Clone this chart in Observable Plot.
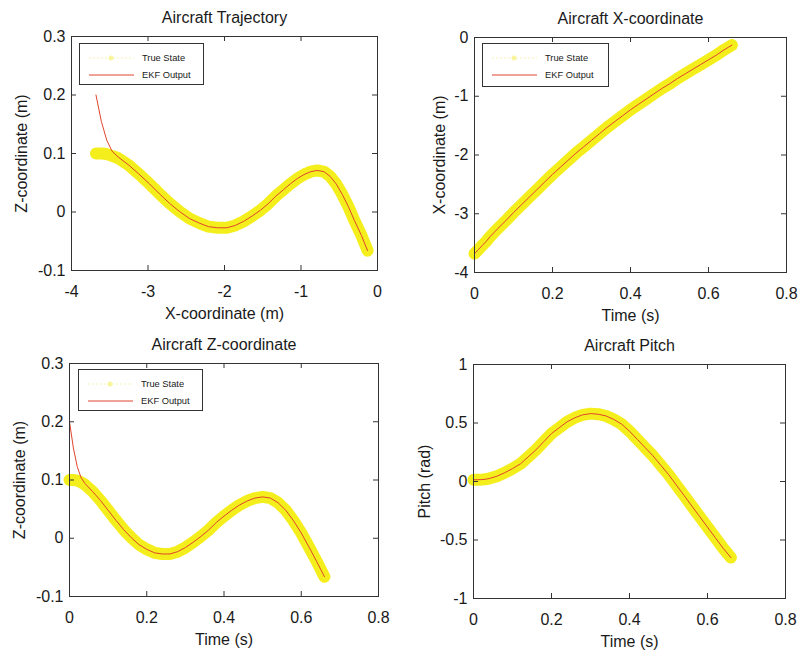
<!DOCTYPE html>
<html><head><meta charset="utf-8">
<script src="https://cdn.jsdelivr.net/npm/d3@7"></script>
<script src="https://cdn.jsdelivr.net/npm/@observablehq/plot@0.6"></script>
<style>
body{margin:0;background:#fff;}
#root{position:relative;width:798px;height:652px;overflow:hidden;background:#fff;font-family:"Liberation Sans",Arial,sans-serif;}
.panel{position:absolute;width:399px;height:326px;}
.legend{position:absolute;border:1px solid #333;background:#fff;font-size:9.3px;color:#1a1a1a;box-sizing:border-box;}
.legend .row{position:absolute;left:0;height:14px;line-height:14px;width:100%;}
.legend svg{position:absolute;left:7px;top:0;}
.legend span{position:absolute;left:62px;top:0;white-space:nowrap;}
</style></head><body><div id="root"></div>
<script>
// ---- data ----
const time = [0, 0.01, 0.02, 0.03, 0.04, 0.06, 0.08, 0.10, 0.12, 0.14, 0.16, 0.18, 0.20, 0.22, 0.24, 0.26, 0.28, 0.30, 0.32, 0.34, 0.36, 0.38, 0.40, 0.42, 0.44, 0.46, 0.48, 0.50, 0.52, 0.54, 0.56, 0.58, 0.60, 0.62, 0.64, 0.66];
const trueX = [-3.68, -3.61, -3.54, -3.47, -3.39, -3.25, -3.12, -2.98, -2.85, -2.72, -2.59, -2.46, -2.33, -2.21, -2.09, -1.97, -1.86, -1.75, -1.64, -1.53, -1.43, -1.33, -1.23, -1.14, -1.05, -0.96, -0.87, -0.79, -0.70, -0.62, -0.54, -0.46, -0.38, -0.30, -0.21, -0.13];
const ekfX = [-3.68, -3.61, -3.54, -3.47, -3.39, -3.25, -3.12, -2.98, -2.85, -2.72, -2.59, -2.46, -2.33, -2.21, -2.09, -1.97, -1.86, -1.75, -1.64, -1.53, -1.43, -1.33, -1.23, -1.14, -1.05, -0.96, -0.87, -0.79, -0.70, -0.62, -0.54, -0.46, -0.38, -0.30, -0.21, -0.13];
const trueZ = [0.100, 0.100, 0.099, 0.096, 0.092, 0.080, 0.065, 0.048, 0.031, 0.015, 0.001, -0.011, -0.019, -0.025, -0.027, -0.027, -0.023, -0.016, -0.007, 0.003, 0.014, 0.027, 0.038, 0.048, 0.057, 0.064, 0.069, 0.071, 0.069, 0.061, 0.048, 0.030, 0.009, -0.015, -0.040, -0.066];
const ekfZ = [0.200, 0.155, 0.123, 0.104, 0.094, 0.080, 0.065, 0.048, 0.031, 0.015, 0.001, -0.011, -0.019, -0.025, -0.027, -0.027, -0.023, -0.016, -0.007, 0.003, 0.014, 0.027, 0.038, 0.048, 0.057, 0.064, 0.069, 0.071, 0.069, 0.061, 0.048, 0.030, 0.009, -0.015, -0.040, -0.066];
const truePitch = [0.015, 0.015, 0.016, 0.019, 0.025, 0.045, 0.075, 0.11, 0.15, 0.21, 0.27, 0.34, 0.41, 0.46, 0.51, 0.545, 0.57, 0.58, 0.575, 0.56, 0.53, 0.49, 0.43, 0.36, 0.29, 0.22, 0.14, 0.06, -0.03, -0.12, -0.21, -0.30, -0.39, -0.48, -0.57, -0.65];
const ekfPitch = [0.015, 0.015, 0.016, 0.019, 0.025, 0.045, 0.075, 0.11, 0.15, 0.21, 0.27, 0.34, 0.41, 0.46, 0.51, 0.545, 0.57, 0.58, 0.575, 0.56, 0.53, 0.49, 0.43, 0.36, 0.29, 0.22, 0.14, 0.06, -0.03, -0.12, -0.21, -0.30, -0.39, -0.48, -0.57, -0.65];

const posXTicks = [-4, -3, -2, -1, 0];
const zTicks = [-0.1, 0, 0.1, 0.2, 0.3];
const timeTicks = [0, 0.2, 0.4, 0.6, 0.8];
const xCoordTicks = [-4, -3, -2, -1, 0];
const pitchTicks = [-1, -0.5, 0, 0.5, 1];
const legendLabels = ["True State", "EKF Output"];

const YELLOW = "#f4ef1c";
const RED = "#e0442c";
const INK = "#333";
const TXT = "#1a1a1a";
const FONT = "'Liberation Sans', Arial, Helvetica, sans-serif";

function pairs(a, b) { return a.map((v, i) => ({x: v, y: b[i]})); }

function panel(o) {
  const W = 399, H = 326, m = o.m;
  const fh = H - m.top - m.bottom, fw = W - m.left - m.right;
  const fmt = d => String(d);
  const svg = Plot.plot({
    width: W, height: H,
    marginLeft: m.left, marginRight: m.right, marginTop: m.top, marginBottom: m.bottom,
    style: {fontFamily: FONT, fontSize: "16px", color: TXT, background: "transparent", overflow: "visible"},
    x: {domain: o.xDomain},
    y: {domain: o.yDomain},
    marks: [
      Plot.line(o.truth, {x: "x", y: "y", stroke: YELLOW, strokeWidth: 12, strokeLinecap: "round", strokeLinejoin: "round"}),
      Plot.line(o.ekf, {x: "x", y: "y", stroke: RED, strokeWidth: 1}),
      Plot.tickX(o.xTicks, {x: d => d, insetTop: fh - 5, stroke: INK}),
      Plot.tickX(o.xTicks, {x: d => d, insetBottom: fh - 5, stroke: INK}),
      Plot.tickY(o.yTicks, {y: d => d, insetRight: fw - 5, stroke: INK}),
      Plot.tickY(o.yTicks, {y: d => d, insetLeft: fw - 5, stroke: INK}),
      Plot.frame({stroke: INK}),
      Plot.axisX({ticks: o.xTicks, tickSize: 0, tickPadding: 15, fontSize: 16, tickFormat: fmt, label: null, fill: TXT}),
      Plot.axisY({ticks: o.yTicks, tickSize: 0, tickPadding: 6, fontSize: 16, tickFormat: fmt, label: null, fill: TXT}),
      Plot.text([o.title], {text: d => d, frameAnchor: "top", dy: -19, lineAnchor: "middle", fontSize: 16, fill: TXT}),
      Plot.text([o.xLabel], {text: d => d, frameAnchor: "bottom", dy: 43, lineAnchor: "middle", fontSize: 16, fill: TXT}),
      Plot.text([o.yLabel], {text: d => d, frameAnchor: "left", dx: o.yLabelDx, rotate: -90, lineAnchor: "middle", textAnchor: "middle", fontSize: 16, fill: TXT})
    ]
  });
  const div = document.createElement("div");
  div.className = "panel";
  div.style.left = o.left + "px";
  div.style.top = o.top + "px";
  div.appendChild(svg);
  document.getElementById("root").appendChild(div);
}

function legend(left, top, w, h) {
  const d = document.createElement("div");
  d.className = "legend";
  Object.assign(d.style, {left: left + "px", top: top + "px", width: w + "px", height: h + "px"});
  d.innerHTML =
    `<div class="row" style="top:7px"><svg width="50" height="14"><line x1="2" y1="7" x2="47" y2="7" stroke="#f6f3b8" stroke-width="1" stroke-dasharray="2,2"/><circle cx="24" cy="7" r="2.5" fill="#f7f38a" opacity="0.8"/></svg><span>${legendLabels[0]}</span></div>` +
    `<div class="row" style="top:24px"><svg width="50" height="14"><line x1="2" y1="7" x2="47" y2="7" stroke="${RED}" stroke-width="1"/></svg><span>${legendLabels[1]}</span></div>`;
  document.getElementById("root").appendChild(d);
}

panel({left: 0, top: 0, m: {left: 71, right: 22, top: 36, bottom: 56},
  title: "Aircraft Trajectory", xLabel: "X-coordinate (m)", yLabel: "Z-coordinate (m)", yLabelDx: -50,
  xDomain: [-4, 0], yDomain: [-0.1, 0.3], xTicks: posXTicks, yTicks: zTicks,
  truth: pairs(trueX, trueZ), ekf: pairs(ekfX, ekfZ)});
panel({left: 399, top: 0, m: {left: 75, right: 12, top: 37, bottom: 54},
  title: "Aircraft X-coordinate", xLabel: "Time (s)", yLabel: "X-coordinate (m)", yLabelDx: -35,
  xDomain: [0, 0.8], yDomain: [-4, 0], xTicks: timeTicks, yTicks: xCoordTicks,
  truth: pairs(time, trueX), ekf: pairs(time, ekfX)});
panel({left: 0, top: 326, m: {left: 69, right: 21, top: 37, bottom: 56},
  title: "Aircraft Z-coordinate", xLabel: "Time (s)", yLabel: "Z-coordinate (m)", yLabelDx: -50,
  xDomain: [0, 0.8], yDomain: [-0.1, 0.3], xTicks: timeTicks, yTicks: zTicks,
  truth: pairs(time, trueZ), ekf: pairs(time, ekfZ)});
panel({left: 399, top: 326, m: {left: 74, right: 13, top: 38, bottom: 54},
  title: "Aircraft Pitch", xLabel: "Time (s)", yLabel: "Pitch (rad)", yLabelDx: -49,
  xDomain: [0, 0.8], yDomain: [-1, 1], xTicks: timeTicks, yTicks: pitchTicks,
  truth: pairs(time, truePitch), ekf: pairs(time, ekfPitch)});

legend(79, 43, 125, 42);
legend(482, 43, 127, 44);
legend(78, 369, 125, 42);
</script></body></html>
